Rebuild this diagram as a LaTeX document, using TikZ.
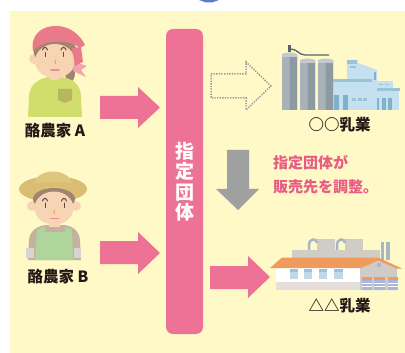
\documentclass[tikz,border=0pt]{standalone}
\usepackage{fontspec}
\setmainfont{Noto Sans CJK JP}
\definecolor{bgyellow}{HTML}{FEF9C6}
\definecolor{pinkbar}{HTML}{EE7296}
\definecolor{pinktext}{HTML}{E95A84}
\definecolor{arrowgray}{HTML}{9FA0A0}
\definecolor{dotgray}{HTML}{999999}
\definecolor{topblue}{HTML}{5A7EC6}
\definecolor{ink}{HTML}{231815}
\definecolor{skin}{HTML}{F7D4B3}
\definecolor{hairbrown}{HTML}{A08470}
\definecolor{scarf}{HTML}{E97A8A}
\definecolor{scarflight}{HTML}{F2A3B0}
\definecolor{shirtlime}{HTML}{D2DE6C}
\definecolor{pocket}{HTML}{B7B55E}
\definecolor{eyebrown}{HTML}{5A4A42}
\definecolor{noseor}{HTML}{F39A50}
\definecolor{mouthpk}{HTML}{EC8E94}
\definecolor{hatbrim}{HTML}{D9BD73}
\definecolor{hatcrown}{HTML}{DFC680}
\definecolor{shirtgray}{HTML}{C4B19F}
\definecolor{apron}{HTML}{AED59C}
\definecolor{cuff}{HTML}{D9D4D0}
\definecolor{silolight}{HTML}{A9B2B9}
\definecolor{silodark}{HTML}{8E9AA3}
\definecolor{pipedark}{HTML}{57626A}
\definecolor{bldblue}{HTML}{C5E0EE}
\definecolor{bldband}{HTML}{9CC2D7}
\definecolor{winblue}{HTML}{7FB1CC}
\definecolor{roofor}{HTML}{F19A5E}
\definecolor{backgray}{HTML}{D0CDC7}
\definecolor{pipeblue}{HTML}{A7B7C5}
\definecolor{winlight}{HTML}{BFD9E8}
\definecolor{wintop}{HTML}{9CC3DA}
\definecolor{basegray}{HTML}{E4DFDB}
\definecolor{gablegray}{HTML}{CFCBC6}
\definecolor{doorlav}{HTML}{A9B5DD}
\tikzset{
  blockpink/.style={fill=pinkbar},
  label/.style={text=ink, font=\fontsize{15.5}{17}\selectfont\bfseries, inner sep=0pt},
  note/.style={text=pinktext, font=\fontsize{15}{17}\selectfont\bfseries, inner sep=0pt, anchor=west},
  eyeline/.style={draw=eyebrown, line width=1pt, line cap=round},
}
\begin{document}
\begin{tikzpicture}[x=1pt,y=-1pt]
\useasboundingbox (0,0) rectangle (405,353);
\fill[white] (0,0) rectangle (405,353);
\fill[bgyellow] (10,11) rectangle (405,353);
% tip of the arrow coming from above
\fill[topblue] (199,0) -- (219,0) -- (212,2.5) -- (206,2.5) -- cycle;

% ---------------- farmer A ----------------
\fill[hairbrown] (70,73) ellipse [x radius=5pt, y radius=9pt];
\fill[shirtlime] (28,117) -- (29,96) .. controls (30,83) and (40,79) .. (48,77) -- (62,77)
  .. controls (72,79) and (80,83) .. (81,96) -- (82,117) -- cycle;
\fill[skin] (49,68) -- (61,68) -- (61,78) .. controls (58,81) and (52,81) .. (49,78) -- cycle;
\fill[pocket] (58,89) -- (72,89) -- (72,100) -- (65,103) -- (58,100) -- cycle;
\fill[skin] (34,59) circle [radius=5pt];
\fill[skin] (76,59) circle [radius=5pt];
\fill[hairbrown] (55,51) ellipse [x radius=21.5pt, y radius=14pt];
\fill[skin] (55,61) ellipse [x radius=20pt, y radius=17pt];
\fill[scarflight] (74,62) -- (87,66) -- (81,70) -- (86,77) -- (73,71) -- cycle;
\fill[scarf] (33,51) .. controls (30,33) and (44,25) .. (58,26)
  .. controls (71,27) and (80,35) .. (85,45) -- (80,48)
  .. controls (70,40) and (45,38) .. (33,51) -- cycle;
\fill[scarf] (72,48) -- (81,47) -- (83,62) -- (75,66) -- cycle;
\draw[eyeline] (42.5,50) .. controls (43.5,46.5) and (46.5,46.5) .. (47.5,50);
\draw[eyeline] (45,52.5) -- (45,56.5);
\draw[eyeline] (61,50) .. controls (62,46.5) and (65,46.5) .. (66,50);
\draw[eyeline] (63.5,52.5) -- (63.5,56.5);
\draw[noseor, line width=1pt, line cap=round] (55,60) -- (55.4,63.5);
\draw[mouthpk, line width=1.3pt, line cap=round] (51,70) -- (59,70);

% ---------------- farmer B ----------------
\fill[shirtgray] (28,260) -- (29,240) .. controls (30,230) and (38,226) .. (46,225) -- (64,225)
  .. controls (72,226) and (79,230) .. (80,240) -- (81,260) -- cycle;
\fill[apron] (37,229) -- (45,227) -- (45,232) -- (65,232) -- (65,227) -- (72,229) -- (73,260) -- (35,260) -- cycle;
\fill[cuff] (26,248) rectangle (34,258);
\fill[cuff] (74,248) rectangle (81,258);
\fill[skin] (49,216) rectangle (60,227);
\fill[hatbrim] (53,189) ellipse [x radius=34pt, y radius=13pt];
\fill[hatcrown] (33,188) .. controls (33,166) and (73,166) .. (73,188) -- cycle;
\fill[hatbrim] (33,184) .. controls (45,181) and (61,181) .. (73,184) -- (73,189) .. controls (61,186) and (45,186) .. (33,189) -- cycle;
\fill[skin] (32,206) circle [radius=5pt];
\fill[skin] (76,206) circle [radius=5pt];
\fill[hairbrown] (54,199) ellipse [x radius=21pt, y radius=11pt];
\fill[skin] (54,208) ellipse [x radius=19.5pt, y radius=16.5pt];
\draw[eyeline] (42.5,201) .. controls (43.5,197.5) and (46.5,197.5) .. (47.5,201);
\draw[eyeline] (45,203) -- (45,207.5);
\draw[eyeline] (61.5,201) .. controls (62.5,197.5) and (65.5,197.5) .. (66.5,201);
\draw[eyeline] (64,203) -- (64,207.5);
\draw[noseor, line width=1pt, line cap=round] (54,210.5) -- (54.4,214);
\draw[mouthpk, line width=1.3pt, line cap=round] (50.5,218.5) -- (58.5,218.5);

% ---------------- labels of the farmers ----------------
\node[label] (farmA) at (55,131) {酪農家 A};
\node[label] (farmB) at (58,277) {酪農家 B};

% ---------------- arrows into the group ----------------
\fill[blockpink] (100,96) -- (138,96) -- (138,87) -- (160,107.5) -- (138,128) -- (138,119) -- (100,119) -- cycle;
\fill[blockpink] (100,241) -- (138,241) -- (138,232) -- (160,253) -- (138,274) -- (138,264) -- (100,264) -- cycle;

% ---------------- designated group bar ----------------
\fill[pinkbar, rounded corners=7pt] (166,29) rectangle (203,334);
\node[text=white, font=\fontsize{19}{20.5}\selectfont\bfseries, align=center, inner sep=0pt] (group) at (185,182) {指\\定\\団\\体};

% ---------------- arrows out of the group ----------------
\draw[dotgray, line width=1.5pt, dash pattern=on 1.3pt off 1.3pt] (211,74) -- (246,74) -- (246,62) -- (271,86) -- (246,110) -- (246,98) -- (211,98) -- cycle;
\fill[arrowgray] (227,150) -- (249,150) -- (249,189) -- (259,189) -- (238,210) -- (216,189) -- (227,189) -- cycle;
\fill[blockpink] (210,266) -- (248,266) -- (248,256) -- (270,277) -- (248,298) -- (248,289) -- (210,289) -- cycle;

\node[note] (note1) at (273,163) {指定団体が};
\node[note] (note2) at (273,187) {販売先を調整。};

% ---------------- dairy factory ○○ ----------------
% annex and main block
\fill[bldblue] (371,81) rectangle (393,110);
\fill[bldblue] (368,89) rectangle (399,110);
\fill[bldband] (368,88) rectangle (400,91.5);
\fill[winblue] (375,98) rectangle (379,110);
\fill[winblue] (382,98) rectangle (386,110);
\fill[winblue] (388,98) rectangle (392,110);
\fill[bldband] (373,84) rectangle (377,85.5);
\fill[bldband] (379,84) rectangle (383,85.5);
\fill[bldband] (385,84) rectangle (389,85.5);
\fill[bldblue] (347,60) -- (358,60) -- (358,63) -- (377,70) -- (377,110) -- (347,110) -- cycle;
\fill[bldband] (347,60) rectangle (357,64);
\fill[bldband] (350,66) rectangle (356,68);
\fill[winblue] (374,72) rectangle (375.5,80);
\fill[bldblue] (333,79) rectangle (372,110);
\fill[bldband] (333,79) rectangle (372,82.5);
\fill[winblue] (334,95) rectangle (339,110);
\fill[winblue] (342.5,95) rectangle (347.5,110);
\fill[bldband] (352,98) rectangle (356,101);
\fill[bldband] (357.5,98) rectangle (361.5,101);
\fill[bldband] (363,98) rectangle (367,101);
% silos
\fill[pipedark] (288,45) rectangle (291,52);
\draw[pipedark, line width=1.3pt] (291,49) .. controls (297,49) and (299,55) .. (305,55) -- (329,55);
\foreach \sx/\sy in {282/52, 300/58, 318/58} {
  \fill[silolight] (\sx,\sy+3) .. controls (\sx+1,\sy) and (\sx+14,\sy) .. (\sx+15,\sy+3) -- (\sx+15,110) -- (\sx,110) -- cycle;
  \fill[silodark] (\sx+7.5,\sy+1) -- (\sx+15,\sy+3) -- (\sx+15,110) -- (\sx+7.5,110) -- cycle;
  \fill[silolight!70!white] (\sx,\sy+3) .. controls (\sx+1,\sy) and (\sx+14,\sy) .. (\sx+15,\sy+3) -- (\sx+15,\sy+5) -- (\sx,\sy+5) -- cycle;
}
\node[label] (dairyO) at (339.5,125) {○○乳業};

% ---------------- dairy factory △△ ----------------
\fill[backgray] (317,239) rectangle (335,252);
\fill[backgray] (345,239) rectangle (363,252);
\draw[pipeblue, line width=2.5pt] (309,252) -- (309,245) .. controls (309,238) and (317,238) .. (317,243);
\draw[pipeblue, line width=2.5pt] (337,252) -- (337,245) .. controls (337,238) and (345,238) .. (345,243);
\fill[pipeblue] (380.5,242) rectangle (384,260);
\fill[pipeblue] (386,242) rectangle (389.5,260);
\fill[backgray] (292,250) rectangle (380,258);
\fill[white] (276,268) rectangle (360,282);
\foreach \wx in {289.5, 303.5, 318.5, 334} {
  \fill[winlight] (\wx,269) rectangle (\wx+8.5,279);
  \fill[wintop] (\wx,269) rectangle (\wx+8.5,271.5);
}
\fill[basegray] (276,281.5) rectangle (360,290);
\fill[gablegray] (360,268) -- (378,260) -- (397,268) -- (397,290) -- (360,290) -- cycle;
\fill[doorlav] (377,262.5) rectangle (381,266.5);
\foreach \dx/\dw in {361.5/10.5, 374/11, 387.5/10} {
  \fill[roofor] (\dx,276.5) rectangle (\dx+\dw,279.5);
  \fill[doorlav] (\dx,279.5) rectangle (\dx+\dw,290);
  \draw[white, line width=0.5pt] (\dx,283) -- (\dx+\dw,283) (\dx,286.5) -- (\dx+\dw,286.5);
}
\fill[roofor] (270,268) -- (282,257.5) -- (378,257.5) -- (402,268.5) -- (397,268.5) -- (378,260.5) -- (361,268) -- cycle;
\node[label] (dairyT) at (339.5,306) {△△乳業};
\end{tikzpicture}
\end{document}
